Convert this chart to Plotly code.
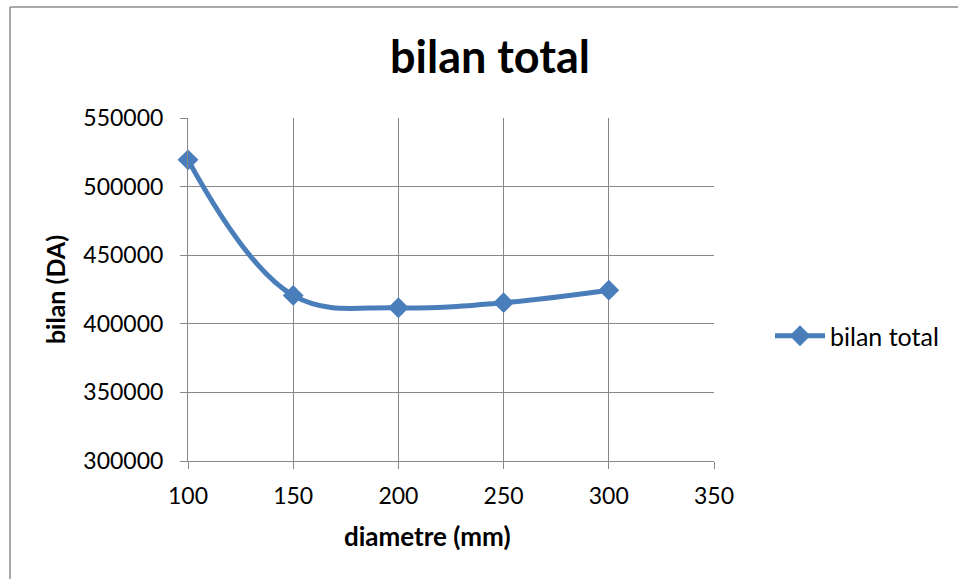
import plotly.graph_objects as go

# diameter (mm) vs total balance (DA)
diametre = [100, 150, 200, 250, 300]
bilan_total = [519500, 420700, 411700, 415400, 424500]
x_ticks = [100, 150, 200, 250, 300, 350]
y_ticks = [300000, 350000, 400000, 450000, 500000, 550000]

W, H = 958, 579
L, R, T, B = 188, 244, 118, 118
pw, ph = W - L - R, H - T - B

blue = "#4A7EBB"
grid = "#878787"
font_family = "Lato, 'Open Sans', sans-serif"

fig = go.Figure()
fig.add_trace(go.Scatter(
    x=diametre, y=bilan_total, name="bilan total",
    mode="lines+markers", cliponaxis=False,
    line=dict(color=blue, width=5, shape="spline", smoothing=1.1),
    marker=dict(symbol="diamond", size=16, color=blue),
))

def px_x(p):
    return (p - L) / pw

def px_y(p):
    return (H - B - p) / ph

fig.update_layout(
    width=W, height=H,
    margin=dict(l=L, r=R, t=T, b=B),
    paper_bgcolor="white", plot_bgcolor="white",
    font=dict(family=font_family, size=23, color="black"),
    title=dict(text="<b>bilan total</b>", x=490 / W, xanchor="center",
               y=1 - 57 / H, yanchor="middle",
               font=dict(size=45, family=font_family)),
    showlegend=True,
    legend=dict(x=px_x(770), y=px_y(336), xanchor="left", yanchor="middle",
                font=dict(size=25), bgcolor="rgba(0,0,0,0)",
                itemwidth=50),
    xaxis=dict(range=[100, 350], tickvals=x_ticks, showgrid=True,
               gridcolor=grid, gridwidth=1, showline=True, linecolor=grid,
               ticks="outside", ticklen=7, tickcolor=grid, zeroline=False,
               tickfont=dict(size=23), ticklabelstandoff=7),
    yaxis=dict(range=[300000, 550000], tickvals=y_ticks, showgrid=True,
               gridcolor=grid, gridwidth=1, showline=True, linecolor=grid,
               ticks="outside", ticklen=7, tickcolor=grid, zeroline=False,
               tickformat="d", tickfont=dict(size=23), ticklabelstandoff=12,
               title=dict(text="<b>bilan (DA)</b>", font=dict(size=25),
                          standoff=10)),
    annotations=[
        dict(text="<b>diametre (mm)</b>", xref="paper", yref="paper",
             x=px_x(427), y=px_y(536), xanchor="center", yanchor="middle",
             showarrow=False, font=dict(size=26)),
    ],
    shapes=[
        dict(type="line", xref="paper", yref="paper",
             x0=px_x(10), x1=px_x(962), y0=px_y(7), y1=px_y(7),
             line=dict(color="#8C8C8C", width=1.5)),
        dict(type="line", xref="paper", yref="paper",
             x0=px_x(10), x1=px_x(10), y0=px_y(7), y1=px_y(585),
             line=dict(color="#8C8C8C", width=1.5)),
    ],
)

fig.write_html("out.html")
